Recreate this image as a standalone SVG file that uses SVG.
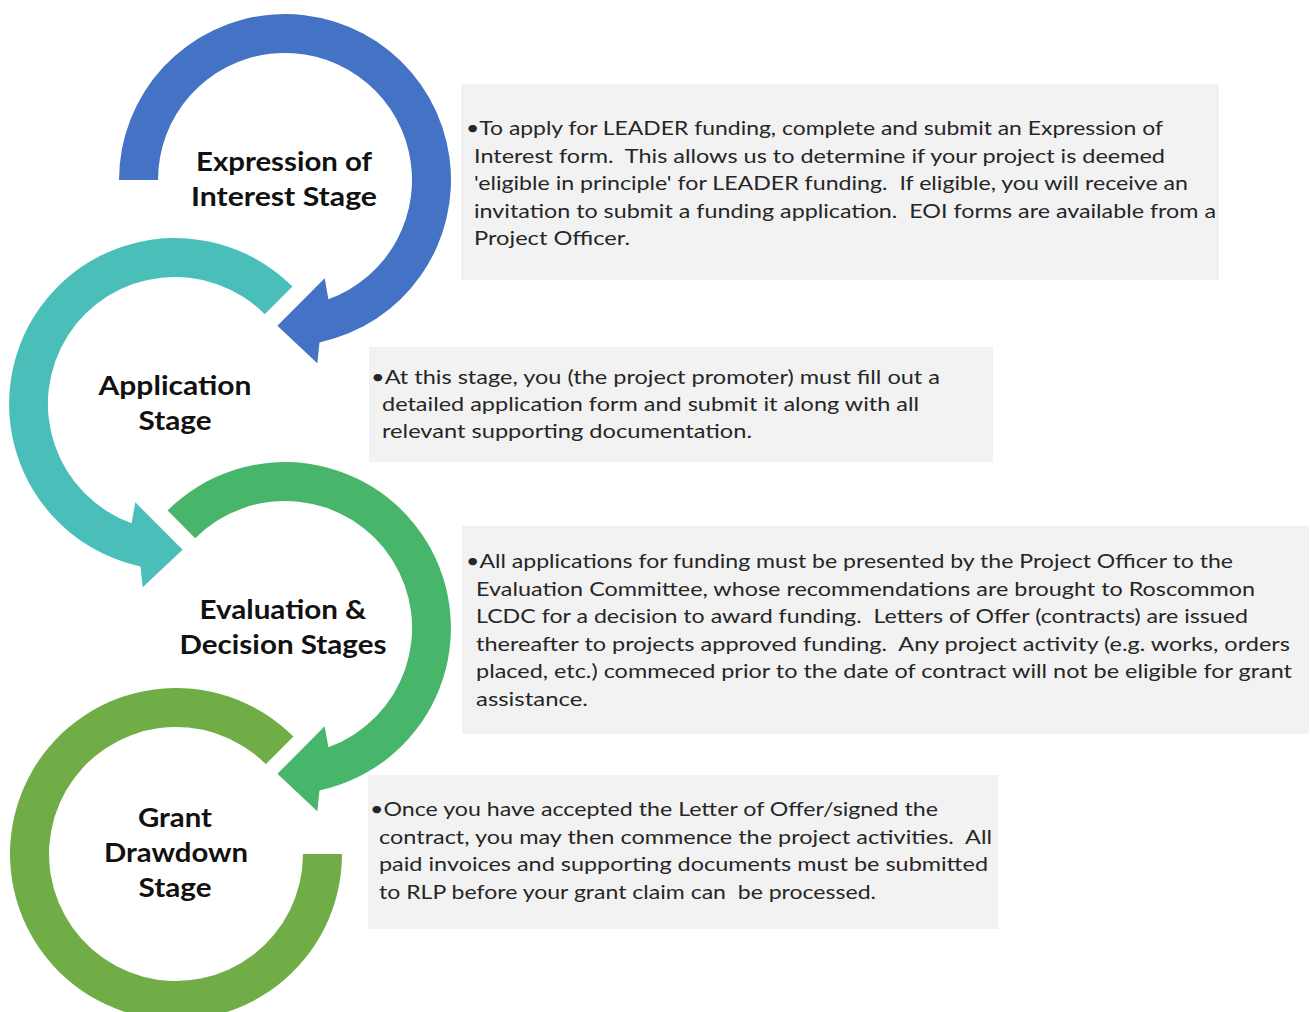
<svg xmlns="http://www.w3.org/2000/svg" width="1310" height="1012" viewBox="0 0 1310 1012">
<style>
.title{font-family:"Lato","Liberation Sans",sans-serif;font-weight:bold;font-size:26px;fill:#111;text-anchor:middle}
.body{font-family:"Lato","Liberation Sans",sans-serif;font-size:20px;fill:#262626;white-space:pre}
.box{fill:#F2F2F2}
</style>
<rect width="1310" height="1012" fill="#ffffff"/>

<g id="stage-eoi">
<path fill="#4472C4" d="M119,180 A166,166 0 1 1 319.5,342.4 L317.3,363.2 L277.4,325.8 L324.7,278.3 L328.4,299.3 A127,127 0 1 0 158,180 Z"/>
<text class="title" x="284" y="171" textLength="176" lengthAdjust="spacingAndGlyphs">Expression of</text>
<text class="title" x="284" y="206" textLength="186" lengthAdjust="spacingAndGlyphs">Interest Stage</text>
<rect class="box" x="461" y="84" width="758" height="196"/>
<text class="body" x="466" y="135" textLength="697" lengthAdjust="spacingAndGlyphs">•To apply for LEADER funding, complete and submit an Expression of</text>
<text class="body" x="474" y="162.5" textLength="691" lengthAdjust="spacingAndGlyphs">Interest form.  This allows us to determine if your project is deemed</text>
<text class="body" x="474" y="190" textLength="714" lengthAdjust="spacingAndGlyphs">'eligible in principle' for LEADER funding.  If eligible, you will receive an</text>
<text class="body" x="474" y="217.5" textLength="742" lengthAdjust="spacingAndGlyphs">invitation to submit a funding application.  EOI forms are available from a</text>
<text class="body" x="474" y="245" textLength="156" lengthAdjust="spacingAndGlyphs">Project Officer.</text>
</g>

<g id="stage-application">
<path fill="#4ABFBA" d="M292.4,286.6 A166,166 0 1 0 140.5,566.4 L142.7,587.2 L182.6,549.8 L135.3,502.3 L131.6,523.3 A127,127 0 1 1 264.8,314.2 Z"/>
<text class="title" x="175" y="395" textLength="153" lengthAdjust="spacingAndGlyphs">Application</text>
<text class="title" x="175" y="430" textLength="73" lengthAdjust="spacingAndGlyphs">Stage</text>
<rect class="box" x="369" y="347" width="624" height="115"/>
<text class="body" x="371" y="384" textLength="569" lengthAdjust="spacingAndGlyphs">•At this stage, you (the project promoter) must fill out a</text>
<text class="body" x="382" y="411" textLength="537" lengthAdjust="spacingAndGlyphs">detailed application form and submit it along with all</text>
<text class="body" x="382" y="438" textLength="370" lengthAdjust="spacingAndGlyphs">relevant supporting documentation.</text>
</g>

<g id="stage-evaluation">
<path fill="#47B56A" d="M167.6,510.6 A166,166 0 1 1 319.5,790.4 L317.3,811.2 L277.4,773.8 L324.7,726.3 L328.4,747.3 A127,127 0 1 0 195.2,538.2 Z"/>
<text class="title" x="283" y="619" textLength="167" lengthAdjust="spacingAndGlyphs">Evaluation &amp;</text>
<text class="title" x="283" y="654" textLength="207" lengthAdjust="spacingAndGlyphs">Decision Stages</text>
<rect class="box" x="462" y="526" width="847" height="208"/>
<text class="body" x="466" y="568" textLength="767" lengthAdjust="spacingAndGlyphs">•All applications for funding must be presented by the Project Officer to the</text>
<text class="body" x="476" y="595.5" textLength="779" lengthAdjust="spacingAndGlyphs">Evaluation Committee, whose recommendations are brought to Roscommon</text>
<text class="body" x="476" y="623" textLength="772" lengthAdjust="spacingAndGlyphs">LCDC for a decision to award funding.  Letters of Offer (contracts) are issued</text>
<text class="body" x="476" y="650.5" textLength="814" lengthAdjust="spacingAndGlyphs">thereafter to projects approved funding.  Any project activity (e.g. works, orders</text>
<text class="body" x="476" y="678" textLength="816" lengthAdjust="spacingAndGlyphs">placed, etc.) commeced prior to the date of contract will not be eligible for grant</text>
<text class="body" x="476" y="705.5" textLength="112" lengthAdjust="spacingAndGlyphs">assistance.</text>
</g>

<g id="stage-drawdown">
<path fill="#70AD47" d="M293.4,736.6 A166,166 0 1 0 342,854 L303,854 A127,127 0 1 1 265.8,764.2 Z"/>
<text class="title" x="175" y="827" textLength="74" lengthAdjust="spacingAndGlyphs">Grant</text>
<text class="title" x="176" y="862" textLength="144" lengthAdjust="spacingAndGlyphs">Drawdown</text>
<text class="title" x="175" y="897" textLength="73" lengthAdjust="spacingAndGlyphs">Stage</text>
<rect class="box" x="368" y="775" width="630" height="154"/>
<text class="body" x="370" y="816" textLength="568" lengthAdjust="spacingAndGlyphs">•Once you have accepted the Letter of Offer/signed the</text>
<text class="body" x="379" y="843.5" textLength="613" lengthAdjust="spacingAndGlyphs">contract, you may then commence the project activities.  All</text>
<text class="body" x="379" y="871" textLength="609" lengthAdjust="spacingAndGlyphs">paid invoices and supporting documents must be submitted</text>
<text class="body" x="379" y="898.5" textLength="497" lengthAdjust="spacingAndGlyphs">to RLP before your grant claim can  be processed.</text>
</g>
</svg>
